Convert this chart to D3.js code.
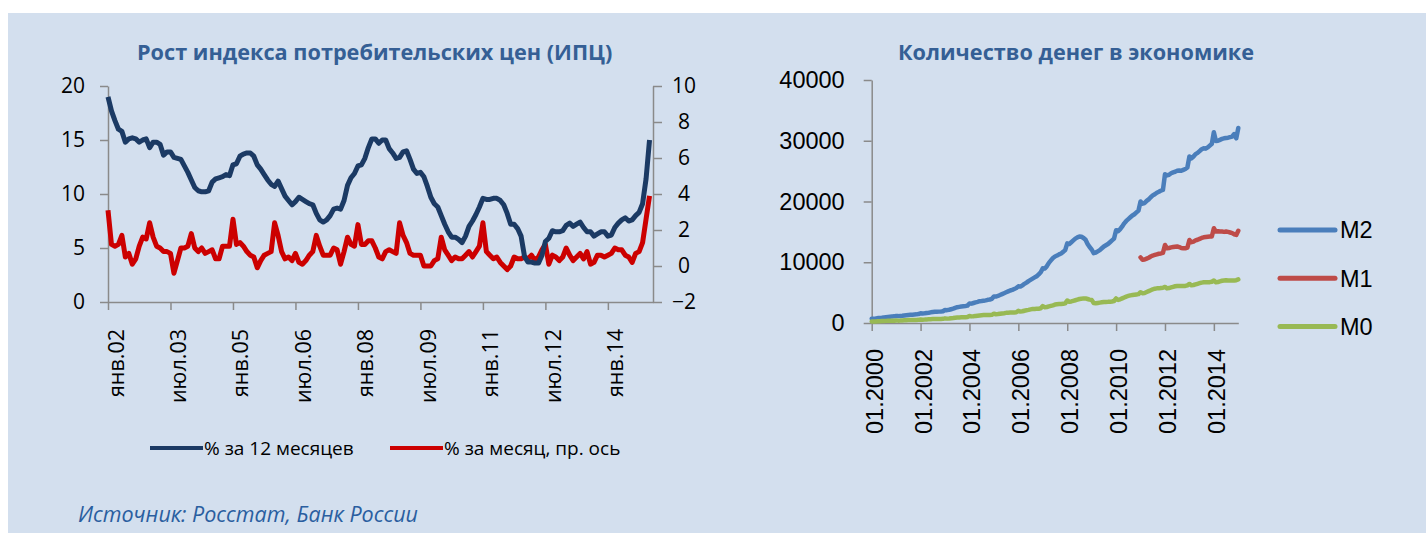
<!DOCTYPE html>
<html>
<head>
<meta charset="utf-8">
<script src="https://d3js.org/d3.v7.min.js"></script>
<style>
  body { margin: 0; background: #fff; }
  svg { display: block; }
</style>
</head>
<body>
<div id="chart"></div>
<script>

//////// DATA ////////
// ИПЦ, % за 12 месяцев, янв.2002 - янв.2015
var cpiYoY = [
  19.0, 17.7, 16.8, 16.0, 15.8, 14.8, 15.1, 15.2, 15.1, 14.8, 15.0, 15.1,
  14.3, 14.8, 14.8, 14.6, 13.6, 13.9, 13.9, 13.4, 13.3, 13.2, 12.6, 12.0,
  11.3, 10.6, 10.3, 10.2, 10.2, 10.3, 11.1, 11.4, 11.5, 11.6, 11.8, 11.7,
  12.7, 12.8, 13.5, 13.7, 13.8, 13.8, 13.5, 12.7, 12.3, 11.8, 11.3, 10.9,
  10.7, 11.2, 10.5, 9.8, 9.4, 9.0, 9.3, 9.7, 9.5, 9.3, 9.1, 9.0,
  8.2, 7.6, 7.4, 7.6, 8.0, 8.6, 8.7, 8.6, 9.4, 10.8, 11.5, 11.9,
  12.6, 12.7, 13.3, 14.3, 15.1, 15.1, 14.7, 15.0, 15.0, 14.2, 13.8, 13.3,
  13.4, 13.9, 14.0, 13.2, 12.3, 11.9, 12.0, 11.6, 10.7, 9.7, 9.1, 8.8,
  8.0, 7.2, 6.5, 6.0, 6.0, 5.8, 5.5, 6.1, 7.0, 7.5, 8.1, 8.8,
  9.6, 9.5, 9.5, 9.6, 9.6, 9.4, 9.0, 8.2, 7.2, 7.2, 6.8, 6.1,
  4.2, 3.7, 3.7, 3.6, 3.6, 4.3, 5.6, 5.9, 6.6, 6.5, 6.5, 6.6,
  7.1, 7.3, 7.0, 7.2, 7.4, 6.9, 6.5, 6.5, 6.1, 6.3, 6.5, 6.5,
  6.1, 6.2, 6.9, 7.3, 7.6, 7.8, 7.5, 7.6, 8.0, 8.3, 9.1, 11.4,
  15.0
];

// ИПЦ, % за месяц (правая ось)
var cpiMoM = [
  3.1, 1.2, 1.1, 1.2, 1.7, 0.5, 0.7, 0.1, 0.4, 1.1, 1.6, 1.5,
  2.4, 1.6, 1.1, 1.0, 0.8, 0.8, 0.7, -0.4, 0.3, 1.0, 1.0, 1.1,
  1.8, 1.0, 0.8, 1.0, 0.7, 0.8, 0.9, 0.4, 0.4, 1.1, 1.1, 1.1,
  2.6, 1.2, 1.3, 1.1, 0.8, 0.6, 0.5, -0.1, 0.3, 0.6, 0.7, 0.8,
  2.4, 1.7, 0.8, 0.4, 0.5, 0.3, 0.7, 0.2, 0.1, 0.3, 0.6, 0.8,
  1.7, 1.1, 0.6, 0.6, 0.6, 1.0, 0.9, 0.1, 0.8, 1.6, 1.2, 1.1,
  2.3, 1.2, 1.2, 1.4, 1.4, 1.0, 0.5, 0.4, 0.8, 0.9, 0.8, 0.7,
  2.4, 1.7, 1.3, 0.7, 0.6, 0.6, 0.6, 0.0, 0.0, 0.0, 0.3, 0.4,
  1.6, 0.9, 0.6, 0.3, 0.5, 0.4, 0.4, 0.6, 0.8, 0.5, 0.8, 1.1,
  2.4, 0.8, 0.6, 0.4, 0.5, 0.2, 0.0, -0.2, 0.0, 0.5, 0.4, 0.4,
  0.5, 0.4, 0.6, 0.3, 0.5, 0.9, 1.2, 0.1, 0.6, 0.5, 0.3, 0.5,
  1.0, 0.6, 0.3, 0.5, 0.7, 0.4, 0.8, 0.1, 0.2, 0.6, 0.6, 0.5,
  0.6, 0.7, 1.0, 0.9, 0.9, 0.6, 0.5, 0.2, 0.7, 0.8, 1.3, 2.6,
  3.9
];

var cpiTickLabels = ["янв.02", "июл.03", "янв.05", "июл.06", "янв.08", "июл.09", "янв.11", "июл.12", "янв.14"];
var cpiLeftTicks = [0, 5, 10, 15, 20];
var cpiRightTicks = [-2, 0, 2, 4, 6, 8, 10];

// Денежные агрегаты, млрд руб., янв.2000 - янв.2015
var moneyM2 = [
  715, 704, 736, 807, 837, 870, 927, 966, 1003, 1045, 1090, 1093,
  1144, 1133, 1166, 1202, 1246, 1283, 1326, 1352, 1376, 1400, 1421, 1466,
  1603, 1583, 1605, 1657, 1697, 1753, 1794, 1836, 1853, 1873, 1893, 1932,
  2135, 2115, 2176, 2265, 2362, 2490, 2599, 2651, 2705, 2740, 2777, 2862,
  3213, 3189, 3292, 3397, 3481, 3588, 3615, 3678, 3726, 3817, 3868, 3978,
  4363, 4350, 4450, 4600, 4750, 4900, 5050, 5200, 5350, 5450, 5600, 5750,
  6032, 5990, 6200, 6450, 6650, 6900, 7100, 7300, 7500, 7700, 8000, 8350,
  8996, 8950, 9350, 9900, 10300, 10700, 10950, 11100, 11300, 11450, 11700, 12000,
  13100, 13000, 13300, 13600, 13900, 14100, 14250, 14200, 14000, 13700, 13000, 12500,
  12100, 11500, 11600, 11800, 12000, 12300, 12600, 12800, 13000, 13300, 13600, 13900,
  15268, 15100, 15450, 15900, 16400, 16800, 17100, 17400, 17700, 17900, 18200, 18500,
  20012, 19650, 19750, 20100, 20350, 20700, 21000, 21200, 21450, 21600, 21800, 21900,
  24483, 24300, 24400, 24650, 24800, 24900, 25050, 25100, 25050, 25200, 25350, 25600,
  27405, 27100, 27400, 27800, 28000, 28300, 28600, 28750, 28700, 28900, 29200, 29500,
  31405, 29950, 30000, 30150, 30300, 30400, 30450, 30500, 30600, 30700, 31100, 30400,
  32100
];

// M1 - с янв.2011
var moneyM1 = [
  10800, 10400, 10450, 10600, 10750, 10950, 11100, 11200, 11300, 11400, 11450, 11550,
  12840, 12300, 12350, 12450, 12500, 12550, 12600, 12500, 12350, 12300, 12300, 12400,
  13660, 13300, 13400, 13600, 13700, 13850, 14000, 14100, 14150, 14200, 14250, 14250,
  15590, 15050, 15100, 15050, 15050, 15000, 15050, 15000, 14900, 14800, 14600, 14500,
  15190
];
var moneyM1Start = 132; // месяцев от янв.2000

var moneyM0 = [
  267, 255, 265, 290, 305, 320, 340, 350, 355, 365, 370, 380,
  419, 390, 400, 420, 440, 455, 475, 490, 495, 500, 500, 515,
  584, 548, 560, 580, 600, 620, 640, 655, 660, 665, 665, 680,
  763, 720, 735, 770, 810, 860, 900, 920, 935, 940, 945, 975,
  1147, 1090, 1115, 1170, 1210, 1250, 1280, 1300, 1300, 1310, 1310, 1340,
  1535, 1440, 1470, 1530, 1580, 1620, 1670, 1700, 1710, 1720, 1740, 1770,
  2009, 1890, 1930, 2020, 2090, 2160, 2240, 2290, 2320, 2340, 2360, 2420,
  2785, 2590, 2630, 2730, 2820, 2910, 3030, 3080, 3110, 3120, 3150, 3230,
  3702, 3500, 3550, 3650, 3750, 3850, 3950, 4000, 4050, 4050, 3950, 3850,
  3795, 3300, 3250, 3300, 3350, 3400, 3450, 3470, 3480, 3500, 3550, 3620,
  4038, 3800, 3900, 4050, 4200, 4350, 4450, 4550, 4600, 4650, 4700, 4750,
  5063, 4900, 4950, 5100, 5250, 5400, 5550, 5650, 5700, 5700, 5750, 5800,
  5939, 5700, 5750, 5850, 5950, 6050, 6100, 6100, 6100, 6100, 6100, 6200,
  6430, 6200, 6250, 6350, 6450, 6550, 6650, 6700, 6700, 6700, 6720, 6800,
  6986, 6700, 6750, 6850, 6950, 7000, 7050, 7000, 7000, 6980, 7000, 7050,
  7172
];

var moneyTickLabels = ["01.2000", "01.2002", "01.2004", "01.2006", "01.2008", "01.2010", "01.2012", "01.2014"];
var moneyYTicks = [0, 10000, 20000, 30000, 40000];

var moneySeries = [
  {name: "M2", values: moneyM2, start: 0, color: "#4a7ebb"},
  {name: "M1", values: moneyM1, start: moneyM1Start, color: "#be4b48"},
  {name: "M0", values: moneyM0, start: 0, color: "#98b954"}
];

//////// CANVAS ////////
var W = 1426, H = 533;
var axisColor = "#8a8a8a";
var leftFont = "'Open Sans', 'Noto Sans', sans-serif";
var rightFont = "'Liberation Sans', Arial, sans-serif";

var svg = d3.select("#chart").append("svg")
    .attr("width", W)
    .attr("height", H);

svg.append("rect")
    .attr("x", 8)
    .attr("y", 13)
    .attr("width", W - 8)
    .attr("height", H - 13)
    .attr("fill", "#d3dfee");

function styleAxis(g, font, size) {
    g.select(".domain").attr("stroke", axisColor).attr("stroke-width", 1.5);
    g.selectAll(".tick line").attr("stroke", axisColor).attr("stroke-width", 1.5);
    g.selectAll(".tick text")
        .attr("fill", "#000")
        .style("font-family", font)
        .style("font-size", size + "px");
    g.attr("font-family", null).attr("font-size", null);
}

//////// LEFT CHART: CPI ////////
var xCpi = d3.scaleLinear().domain([0, 157]).range([108, 653]);
var yCpiL = d3.scaleLinear().domain([0, 20]).range([302, 86]);
var yCpiR = d3.scaleLinear().domain([-2, 10]).range([302, 86]);

svg.append("text")
    .attr("x", 137)
    .attr("y", 60)
    .attr("fill", "#355f95")
    .style("font-family", leftFont)
    .style("font-weight", "bold")
    .style("font-size", "21.7px")
    .text("Рост индекса потребительских цен (ИПЦ)");

// axes
var gxCpi = svg.append("g")
    .attr("transform", "translate(0," + yCpiL(0) + ")")
    .call(d3.axisBottom(xCpi)
        .tickValues(cpiTickLabels.map(function(d, i) { return i * 18; }))
        .tickFormat(function(d, i) { return cpiTickLabels[i]; })
        .tickSize(8)
        .tickSizeOuter(0));
styleAxis(gxCpi, leftFont, 21.5);
gxCpi.selectAll(".tick text")
    .attr("y", 0)
    .attr("dy", null)
    .attr("text-anchor", "end")
    .attr("transform", "translate(15,27) rotate(-90)");

var gyCpiL = svg.append("g")
    .attr("transform", "translate(" + xCpi(0) + ",0)")
    .call(d3.axisLeft(yCpiL).tickValues(cpiLeftTicks).tickSize(8).tickPadding(15).tickSizeOuter(0));
styleAxis(gyCpiL, leftFont, 21);

var gyCpiR = svg.append("g")
    .attr("transform", "translate(" + xCpi(157) + ",0)")
    .call(d3.axisRight(yCpiR).tickValues(cpiRightTicks).tickSize(9).tickSizeOuter(0));
styleAxis(gyCpiR, leftFont, 21);
gyCpiR.selectAll(".tick text").attr("x", 31).attr("text-anchor", "middle");

// lines
var lineL = d3.line()
    .x(function(d, i) { return xCpi(i); })
    .y(function(d) { return yCpiL(d); });
var lineR = d3.line()
    .x(function(d, i) { return xCpi(i); })
    .y(function(d) { return yCpiR(d); });

svg.append("path")
    .datum(cpiMoM)
    .attr("d", lineR)
    .attr("fill", "none")
    .attr("stroke", "#cc0000")
    .attr("stroke-width", 5)
    .attr("stroke-linejoin", "round");

svg.append("path")
    .datum(cpiYoY)
    .attr("d", lineL)
    .attr("fill", "none")
    .attr("stroke", "#1b3a64")
    .attr("stroke-width", 5)
    .attr("stroke-linejoin", "round");

// legend
var cpiLegend = [
    {label: "% за 12 месяцев", color: "#1b3a64", x: 150},
    {label: "% за месяц, пр. ось", color: "#cc0000", x: 390}
];
var lgL = svg.append("g").selectAll("g")
    .data(cpiLegend)
    .enter().append("g")
    .attr("transform", function(d) { return "translate(" + d.x + ",448)"; });
lgL.append("line")
    .attr("x1", 0).attr("x2", 53)
    .attr("stroke", function(d) { return d.color; })
    .attr("stroke-width", 4);
lgL.append("text")
    .attr("x", 54)
    .attr("dy", "0.36em")
    .style("font-family", leftFont)
    .style("font-size", "19px")
    .text(function(d) { return d.label; });

//////// RIGHT CHART: MONEY ////////
var xMoney = d3.scaleLinear().domain([0, 180]).range([871.7, 1238.3]);
var yMoney = d3.scaleLinear().domain([0, 40000]).range([323, 80]);

svg.append("text")
    .attr("x", 898)
    .attr("y", 60)
    .attr("fill", "#355f95")
    .style("font-family", leftFont)
    .style("font-weight", "bold")
    .style("font-size", "21.7px")
    .text("Количество денег в экономике");

var gxMoney = svg.append("g")
    .attr("transform", "translate(0," + yMoney(0) + ")")
    .call(d3.axisBottom(xMoney)
        .tickValues(moneyTickLabels.map(function(d, i) { return i * 24; }))
        .tickFormat(function(d, i) { return moneyTickLabels[i]; })
        .tickSize(8)
        .tickSizeOuter(0));
styleAxis(gxMoney, rightFont, 23.5);
gxMoney.selectAll(".tick text")
    .attr("y", 0)
    .attr("dy", null)
    .attr("text-anchor", "end")
    .attr("transform", "translate(10.5,26) rotate(-90)");

var gyMoney = svg.append("g")
    .attr("transform", "translate(" + xMoney(0) + ",0)")
    .call(d3.axisLeft(yMoney).tickValues(moneyYTicks).tickFormat(d3.format("d"))
        .tickSize(8).tickPadding(19).tickSizeOuter(0));
styleAxis(gyMoney, rightFont, 23.5);

var lineM = d3.line()
    .x(function(d) { return xMoney(d.m); })
    .y(function(d) { return yMoney(d.v); });

svg.append("g").selectAll("path")
    .data(moneySeries)
    .enter().append("path")
    .attr("d", function(s) {
        return lineM(s.values.map(function(v, i) { return {m: s.start + i, v: v}; }));
    })
    .attr("fill", "none")
    .attr("stroke", function(s) { return s.color; })
    .attr("stroke-width", 4.5)
    .attr("stroke-linejoin", "round")
    .attr("stroke-linecap", "round");

var lgR = svg.append("g").selectAll("g")
    .data(moneySeries)
    .enter().append("g")
    .attr("transform", function(d, i) { return "translate(1280," + (230 + i * 48.3) + ")"; });
lgR.append("line")
    .attr("x1", 0).attr("x2", 55)
    .attr("stroke", function(d) { return d.color; })
    .attr("stroke-width", 5)
    .attr("stroke-linecap", "round");
lgR.append("text")
    .attr("x", 60)
    .attr("dy", "0.36em")
    .style("font-family", rightFont)
    .style("font-size", "23.5px")
    .text(function(d) { return d.name; });

//////// SOURCE ////////
svg.append("text")
    .attr("x", 78)
    .attr("y", 522)
    .attr("fill", "#2a5ea0")
    .style("font-family", leftFont)
    .style("font-style", "italic")
    .style("font-size", "21.5px")
    .text("Источник: Росстат, Банк России");

</script>
</body>
</html>
